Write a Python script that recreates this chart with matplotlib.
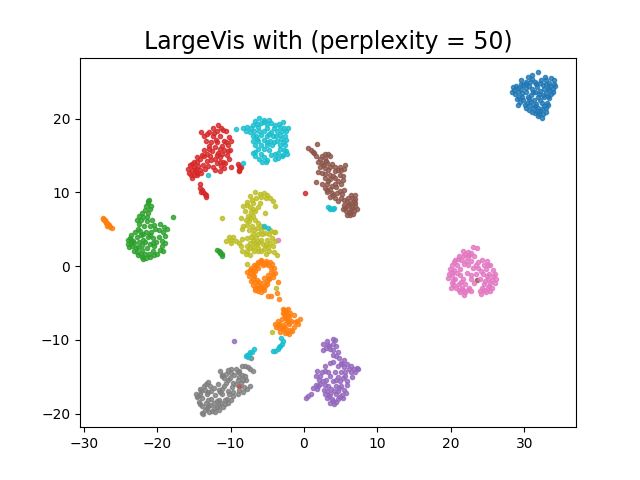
import matplotlib
matplotlib.use("Agg")
from matplotlib import pyplot as plt
import numpy as np

# embedding coordinates, one list per digit class
digit_0 = [(31.9,26.3),(30.5,25.6),(31.0,25.4),(30.2,25.0),(29.9,24.6),(31.4,25.0),(32.3,25.3),(33.0,25.2),(33.7,25.5),
           (33.4,24.9),(34.1,24.7),(33.9,24.1),(34.2,24.4),(33.2,24.2),(32.6,24.6),(31.8,24.3),(31.1,24.1),(30.6,24.4),
           (29.5,24.7),(29.2,24.2),(28.6,23.9),(28.3,23.7),(28.8,23.3),(29.3,23.0),(29.7,23.5),(30.2,23.6),(30.9,23.2),
           (31.5,23.6),(32.2,23.8),(32.9,23.5),(33.6,23.4),(33.9,23.6),(33.4,22.8),(32.7,22.9),(31.9,22.9),(31.3,22.6),
           (30.6,22.7),(29.9,22.5),(29.4,22.3),(30.1,21.9),(30.8,21.9),(31.6,22.0),(32.4,22.2),(33.1,22.2),(33.0,21.5),
           (32.4,21.3),(31.9,21.5),(31.2,21.4),(30.6,21.2),(31.4,20.8),(32.0,20.6),(32.5,20.7),(32.4,20.1),(31.9,20.4),
           (29.6,25.3),(32.8,25.6),(33.5,24.4),(28.9,24.5),(29.0,22.7),(31.0,25.9),(30.3,24.2),(32.2,24.9),(33.2,23.1),
           (30.4,22.2),(32.9,20.9),(31.7,21.0),(30.8,25.0),(29.6,24.1),(28.5,24.3),(29.1,23.6),(30.5,23.0),(31.2,23.7),
           (32.0,23.3),(32.7,24.1),(33.4,23.9),(33.0,24.7),(31.6,24.7),(30.2,24.7),(29.7,22.9),(30.9,22.3),(32.1,22.5),
           (33.3,21.9),(32.7,21.7),(31.5,21.7),(30.2,21.5),(31.1,20.9),(32.6,23.2),(34.0,25.2),(29.1,21.9),(32.1,21.1)]
digit_1 = [(-27.4,6.5),(-27.2,6.2),(-27.0,6.0),(-26.9,5.8),(-26.7,5.7),(-26.6,5.5),(-26.4,5.3),(-26.2,5.2),(-27.1,6.3),
           (-26.8,5.5),(-27.3,6.4),(-26.9,6.0),(-26.5,5.6),
           (-5.9,0.9),(-6.3,0.6),(-5.2,0.7),(-4.6,0.6),(-4.3,0.3),(-6.8,0.2),(-5.6,0.2),(-4.9,0.1),(-7.2,-0.2),(-6.2,-0.2),
           (-4.1,-0.3),(-7.8,-0.8),(-7.3,-0.9),(-6.6,-0.6),(-4.5,-0.8),(-3.9,-0.9),(-7.5,-1.4),(-6.8,-1.4),(-4.9,-1.2),
           (-4.2,-1.5),(-7.2,-2.0),(-6.4,-1.9),(-5.4,-1.6),(-4.7,-1.8),(-6.9,-2.5),(-6.3,-2.6),(-5.6,-2.3),(-5.0,-2.4),
           (-6.7,-3.0),(-6.1,-3.1),(-5.6,-3.0),(-6.2,-3.4),(-5.8,-3.5),(-6.4,-2.9),(-5.3,-2.7),(-6.9,-1.8),(-7.4,-0.5),
           (-5.9,0.4),(-6.5,0.0),(-7.0,-0.5),(-5.3,0.3),(-4.5,-0.2),(-4.2,-1.0),(-4.8,-1.6),(-5.1,-2.0),(-6.1,-2.2),
           (-6.7,-2.1),(-7.0,-1.2),(-6.0,-2.8),(-5.5,-3.3),(-6.6,-3.3),(-5.8,-3.0),(-5.9,0.7),(-6.4,0.3),(-5.0,0.4),
           (-3.6,-2.2),(-3.7,-3.6),(-3.4,-4.4),(-4.9,-4.1),(-4.5,-4.0),
           (-2.7,-5.9),(-2.2,-5.8),(-2.9,-6.3),(-2.4,-6.2),(-1.9,-6.4),(-1.4,-6.6),(-2.6,-6.7),(-2.0,-6.9),(-1.0,-7.4),
           (-0.6,-7.2),(-2.3,-7.3),(-1.7,-7.4),(-1.2,-7.6),(-0.8,-7.9),(-3.6,-7.5),(-3.9,-7.8),(-3.2,-7.8),(-2.6,-7.9),
           (-2.0,-7.9),(-1.4,-8.2),(-3.8,-8.2),(-3.4,-8.4),(-2.9,-8.5),(-2.4,-8.5),(-1.9,-8.7),(-3.2,-8.9),(-2.6,-9.1),
           (-2.1,-9.2),(-1.6,-8.8),(-3.0,-7.2),(-2.8,-5.8),(-2.5,-6.0),(-2.7,-6.5),(-2.2,-6.6),(-2.4,-7.0),(-2.1,-7.6),
           (-3.5,-8.0),(-3.1,-8.3),(-2.7,-8.3),(-2.3,-8.9)]
digit_2 = [(-21.1,9.0),(-21.2,8.6),(-21.5,8.2),(-20.8,8.2),(-21.0,7.7),(-21.6,7.6),(-21.2,7.2),(-22.1,7.2),(-22.5,6.8),
           (-21.4,6.7),(-22.8,6.2),(-22.2,6.3),(-21.4,6.1),(-20.7,6.2),(-22.5,5.7),(-21.8,5.4),(-20.9,5.4),(-19.6,5.7),
           (-19.1,5.3),(-18.6,5.0),(-20.3,5.0),(-19.7,4.9),(-23.0,4.6),(-22.3,4.8),(-21.5,4.7),(-20.8,4.6),(-19.2,4.6),
           (-18.9,4.1),(-23.5,4.2),(-22.8,4.0),(-22.2,4.2),(-20.6,3.8),(-19.8,4.0),(-24.0,3.5),(-23.5,3.6),(-23.1,3.1),
           (-21.9,3.6),(-21.3,3.9),(-20.2,3.3),(-19.3,3.4),(-18.9,3.2),(-23.9,3.0),(-23.4,2.7),(-22.0,2.9),(-21.0,3.0),
           (-20.4,2.7),(-19.4,2.7),(-23.2,2.1),(-22.7,1.9),(-22.0,2.2),(-21.4,2.4),(-20.6,2.1),(-19.6,2.2),(-19.2,2.0),
           (-22.6,1.5),(-22.0,1.3),(-21.5,1.1),(-20.9,1.2),(-20.4,1.5),(-21.9,1.0),(-23.7,3.8),(-21.6,3.3),(-17.8,6.7),
           (-22.9,2.5),(-20.0,1.7),(-23.3,3.4),(-23.6,3.2),(-22.4,3.3),(-22.6,2.6),(-21.7,1.7),(-21.1,1.6),(-20.5,3.2),
           (-20.9,4.2),(-21.9,4.4),(-22.6,5.1),(-21.9,6.7),(-20.4,5.6),(-23.8,2.6),(-22.2,1.7),(-21.2,8.9),
           (-11.8,2.2),(-11.6,2.0),(-11.4,1.8),(-11.2,1.6),(-11.1,1.4),(-11.5,1.9)]
digit_3 = [(-11.7,19.2),(-12.4,18.8),(-11.3,18.8),(-14.0,18.2),(-12.9,18.2),(-11.9,18.4),(-10.6,18.3),(-13.6,17.6),(-12.4,17.6),
           (-11.4,17.7),(-10.2,17.5),(-13.3,17.0),(-12.6,16.9),(-11.8,16.9),(-10.9,17.0),(-9.9,17.0),(-12.9,16.3),(-12.1,16.2),
           (-11.2,16.3),(-10.4,16.4),(-13.6,15.7),(-12.5,15.6),(-11.7,15.4),(-10.9,15.7),(-10.1,15.7),(-13.9,15.1),(-12.8,14.9),
           (-12.1,14.6),(-11.4,14.8),(-10.5,15.1),(-10.2,14.5),(-14.6,14.8),(-14.1,14.5),(-13.2,14.3),(-11.8,14.0),(-11.0,14.2),
           (-10.7,14.0),(-15.0,14.2),(-14.5,14.1),(-15.5,13.7),(-15.0,13.5),(-14.4,13.6),(-13.8,13.7),(-13.0,13.6),(-12.4,13.5),
           (-11.3,13.6),(-15.8,13.2),(-15.3,13.0),(-14.8,12.9),(-14.2,13.1),(-15.6,12.7),(-15.0,12.4),(-14.5,12.4),(-14.0,12.6),
           (-15.2,12.0),(-12.1,13.0),(-11.5,12.9),(-10.9,13.3),(-9.9,13.4),(-12.2,18.1),(-11.0,18.5),(-13.2,17.9),(-12.0,17.1),
           (-10.6,16.9),(-12.9,15.9),(-11.4,15.9),(-10.4,15.6),(-13.2,15.2),(-11.9,15.1),(-11.1,15.2),(-13.6,14.9),(-15.2,13.8),
           (-14.7,13.2),(-15.4,12.4),(-14.6,12.7),(-13.5,13.2),(-12.7,14.4),(-11.5,14.2),
           (-14.1,11.1),(-14.1,10.6),(-13.9,10.3),(-14.0,10.0),(-13.7,10.1),(-13.5,9.8),(-13.3,9.7),(-13.3,9.4),
           (-9.0,13.8),(-8.8,13.6),(-8.7,13.3),(-8.9,13.1),(-8.6,13.5),(-8.9,12.9),(0.1,9.9),(-8.9,-16.3)]
digit_4 = [(3.1,-10.2),(3.9,-9.9),(2.6,-10.6),(3.3,-10.7),(4.0,-10.5),(4.3,-10.9),(2.6,-11.4),(3.5,-11.3),(4.0,-11.4),(3.9,-12.0),
           (4.6,-11.7),(3.6,-13.1),(3.9,-13.0),(4.8,-12.5),(5.5,-12.7),(5.0,-13.1),(5.9,-13.3),(2.9,-13.5),(4.6,-13.6),(5.5,-13.7),
           (6.1,-13.9),(6.8,-13.9),(7.2,-13.8),(7.4,-14.0),(1.8,-14.2),(2.4,-14.3),(3.3,-14.4),(4.2,-14.3),(5.0,-14.3),(6.4,-14.4),
           (7.0,-14.4),(1.6,-14.9),(2.2,-14.9),(3.6,-14.9),(4.6,-15.0),(5.6,-14.9),(6.5,-15.0),(2.0,-15.5),(3.0,-15.4),(3.9,-15.6),
           (4.9,-15.6),(5.8,-15.6),(1.6,-16.1),(1.3,-16.5),(2.2,-16.0),(3.3,-16.2),(4.3,-16.3),(5.1,-16.2),(5.9,-16.1),(1.8,-16.7),
           (2.7,-16.8),(3.7,-16.7),(4.7,-16.9),(5.5,-16.8),(2.9,-17.4),(3.6,-17.3),(4.3,-17.4),(5.2,-17.5),(5.7,-17.2),(3.1,-17.9),
           (3.8,-18.0),(4.6,-18.0),(5.3,-17.9),(3.6,-18.6),(4.1,-18.7),(4.4,-18.4),(3.4,-10.9),(4.2,-10.0),(3.0,-11.1),(4.4,-12.2),
           (5.2,-13.3),(6.4,-13.6),(2.8,-14.2),(5.6,-14.3),(2.6,-15.6),(4.4,-15.4),(5.3,-15.2),(1.9,-16.2),(2.8,-16.1),(4.8,-16.5),
           (3.2,-16.9),(4.1,-17.0),(3.4,-17.6),(4.9,-17.7),(4.0,-18.3),(0.3,-17.9),(0.6,-17.6),(0.9,-17.3),(-9.5,-10.2)]
digit_5 = [(1.8,16.6),(0.6,16.1),(1.0,15.7),(1.4,15.3),(2.8,15.2),(3.3,15.2),(3.6,15.0),(1.7,14.9),(2.2,14.6),(2.9,14.7),
           (1.9,14.2),(2.5,14.0),(3.2,14.0),(3.8,13.9),(2.2,13.5),(2.9,13.3),(4.2,13.5),(4.9,13.5),(5.6,13.7),(3.3,13.0),(4.2,12.9),
           (5.0,13.0),(5.5,13.2),(1.9,12.8),(2.5,12.6),(3.5,12.4),(4.9,12.4),(5.3,12.3),(2.9,11.9),(3.6,11.8),(4.2,11.9),(5.3,11.7),
           (1.6,11.4),(2.4,11.2),(3.2,11.1),(4.2,11.2),(5.0,11.1),(2.9,10.6),(3.6,10.5),(4.4,10.7),(5.4,10.4),(3.1,10.0),(3.8,9.9),
           (4.5,9.9),(5.2,9.8),(6.4,9.7),(6.9,9.6),(3.5,9.4),(4.2,9.3),(5.0,9.3),(6.0,9.3),(6.5,9.2),(7.0,9.1),(4.6,8.8),(5.8,8.8),
           (6.4,8.6),(6.9,8.6),(5.4,8.3),(5.9,8.1),(6.5,8.0),(7.0,8.2),(5.3,7.7),(5.7,7.5),(6.3,7.4),(6.8,7.5),(7.2,7.7),(5.9,7.0),
           (6.3,6.9),(6.7,7.1),(1.2,15.5),(2.4,15.0),(3.0,14.3),(2.6,13.7),(3.6,13.4),(4.6,13.1),(2.9,12.5),(4.0,12.3),(3.3,11.5),
           (4.7,11.5),(3.8,10.9),(3.2,10.4),(4.9,10.2),(4.0,9.6),(5.5,9.0),(6.2,8.4),(6.8,8.9),(5.6,7.9),(6.4,7.7),(6.1,7.2),(23.5,-1.9)]
digit_6 = [(23.0,2.6),(23.5,2.5),(21.6,2.0),(22.3,1.9),(22.8,1.8),(21.1,1.4),(21.7,1.4),(22.4,1.2),(23.1,1.4),(20.6,0.9),(21.4,0.8),
           (22.8,0.7),(24.3,0.8),(24.9,0.7),(23.7,0.5),(20.1,0.2),(20.8,0.2),(21.8,0.3),(22.4,0.2),(24.5,0.2),(25.3,0.2),(19.9,-0.4),
           (20.5,-0.5),(21.3,-0.4),(23.0,-0.3),(23.7,-0.3),(24.8,-0.4),(25.7,-0.5),(19.7,-1.0),(20.2,-1.2),(21.2,-1.2),(22.2,-0.9),
           (23.4,-1.0),(24.4,-1.1),(25.2,-1.0),(26.0,-1.0),(19.6,-1.6),(20.6,-1.8),(21.6,-1.8),(22.7,-1.7),(24.0,-1.7),(25.0,-1.7),
           (26.2,-1.7),(20.1,-2.3),(21.1,-2.4),(22.0,-2.4),(23.1,-2.3),(24.5,-2.4),(25.4,-2.3),(26.0,-2.3),(20.0,-2.9),(20.7,-3.0),
           (21.5,-3.0),(22.5,-2.9),(24.3,-3.0),(25.0,-2.9),(25.6,-2.9),(21.3,-3.5),(22.0,-3.5),(22.7,-3.4),(24.0,-3.4),(24.8,-3.5),
           (25.3,-3.4),(21.8,-3.9),(24.1,-3.8),(21.9,1.7),(22.5,1.5),(21.0,1.0),(20.4,0.5),(22.1,0.7),(23.4,0.2),(24.1,-0.6),(25.0,0.1),
           (20.1,-0.8),(20.9,-0.9),(22.8,-1.2),(24.9,-1.3),(25.7,-1.3),(20.3,-1.9),(21.4,-2.1),(24.6,-2.0),(25.6,-1.9),(25.2,-2.7),
           (20.4,-2.6),(21.1,-3.2),(22.3,-3.2),(24.5,-3.2),(21.6,-3.3),(-3.6,3.5)]
digit_7 = [(-11.5,-14.2),(-10.4,-14.1),(-9.9,-14.0),(-9.2,-14.0),(-8.8,-14.2),(-11.1,-14.7),(-10.6,-14.6),(-9.5,-14.7),(-8.5,-14.8),
           (-8.0,-14.9),(-10.9,-15.2),(-10.1,-15.2),(-9.0,-15.4),(-8.3,-15.4),(-7.9,-15.5),(-10.6,-15.8),(-9.7,-15.9),(-8.6,-15.9),
           (-13.0,-15.7),(-13.6,-16.2),(-12.8,-16.2),(-11.7,-16.0),(-10.9,-16.3),(-9.8,-16.4),(-7.4,-16.3),(-7.8,-16.7),(-14.2,-16.7),
           (-13.5,-16.8),(-12.6,-16.9),(-11.6,-16.8),(-10.4,-16.9),(-9.0,-17.3),(-8.3,-17.1),(-8.8,-16.8),(-14.7,-17.3),(-14.1,-17.3),
           (-13.2,-17.4),(-12.1,-17.5),(-11.2,-17.4),(-10.2,-17.4),(-9.6,-17.6),(-14.6,-17.8),(-13.9,-17.9),(-12.7,-18.0),(-11.6,-18.1),
           (-10.8,-18.2),(-9.9,-18.1),(-14.3,-18.4),(-13.3,-18.5),(-12.3,-18.6),(-11.3,-18.6),(-10.4,-18.6),(-13.9,-19.0),(-13.0,-19.0),
           (-11.9,-19.1),(-11.0,-19.1),(-13.5,-19.5),(-12.5,-19.6),(-11.6,-19.5),(-13.9,-19.9),(-13.7,-20.0),(-12.9,-19.8),(-12.1,-19.8),
           (-11.2,-14.9),(-9.9,-14.5),(-9.0,-14.4),(-10.3,-15.5),(-8.8,-15.0),(-13.3,-16.0),(-12.3,-16.5),(-11.1,-16.6),(-9.2,-16.0),
           (-8.2,-16.4),(-14.0,-17.0),(-13.0,-17.1),(-11.5,-17.1),(-9.6,-17.1),(-14.4,-17.6),(-13.0,-18.2),(-11.9,-18.3),(-10.5,-18.0),
           (-14.1,-18.7),(-12.8,-18.8),(-11.6,-18.8),(-10.8,-18.7),(-13.2,-19.3),(-12.2,-19.3),
           (-8.4,-13.5),(-8.0,-13.6),(-7.6,-13.7),(-7.3,-13.9),(-7.0,-14.2),(-7.2,-12.5)]
digit_8 = [(-6.6,10.0),(-6.0,9.8),(-5.5,9.9),(-5.0,9.7),(-7.3,9.5),(-6.5,9.3),(-4.6,9.3),(-4.2,8.8),(-7.8,8.7),(-6.9,8.6),(-6.0,8.6),
           (-4.0,8.2),(-8.3,8.2),(-7.4,8.0),(-6.3,8.0),(-8.0,7.5),(-7.2,7.3),(-5.3,7.2),(-7.6,6.8),(-6.9,6.8),(-8.6,6.5),(-7.5,6.1),
           (-6.7,6.3),(-6.2,5.8),(-8.3,5.5),(-7.8,5.6),(-7.1,5.5),(-5.9,5.5),(-5.4,5.3),(-8.4,5.0),(-7.5,4.9),(-6.8,4.9),(-5.9,4.9),
           (-4.6,4.9),(-4.1,4.7),(-7.0,4.4),(-6.3,4.3),(-5.3,4.5),(-4.7,4.3),(-3.9,4.6),(-10.2,3.9),(-9.6,3.9),(-9.9,3.5),(-9.2,3.4),
           (-8.4,3.7),(-7.7,3.8),(-6.9,3.6),(-5.9,3.6),(-5.1,3.6),(-10.6,3.4),(-10.0,3.2),(-8.9,3.1),(-7.4,3.2),(-6.4,3.0),(-5.6,3.0),
           (-4.6,3.2),(-3.9,3.4),(-8.6,2.7),(-7.8,2.7),(-7.0,2.6),(-6.2,2.5),(-4.9,2.6),(-4.2,2.7),(-8.5,2.1),(-7.7,2.0),(-6.8,2.1),
           (-5.9,2.0),(-4.7,2.1),(-4.1,1.9),(-7.9,1.6),(-7.4,1.5),(-5.2,1.6),(-3.7,1.5),(-5.9,9.4),(-5.2,9.3),(-7.1,9.0),(-7.7,8.3),
           (-7.0,7.8),(-6.6,7.5),(-7.3,6.6),(-7.9,6.3),(-6.4,5.2),(-5.7,4.4),(-6.5,3.8),(-7.2,4.0),(-6.1,3.3),(-5.2,2.9),(-6.7,3.1),
           (-7.4,2.4),(-5.4,2.3),(-6.3,2.1),(-4.4,3.8),(-11.1,6.5),(-7.7,0.3),(-3.8,-2.9),(-4.4,-8.9)]
digit_9 = [(-6.1,20.1),(-5.4,19.9),(-6.6,19.7),(-4.7,19.8),(-6.9,19.2),(-5.9,19.4),(-5.1,19.3),(-4.5,19.4),(-3.4,19.3),(-2.9,19.5),
           (-8.3,18.8),(-7.7,18.9),(-7.2,18.7),(-6.3,18.9),(-5.0,18.7),(-4.1,18.7),(-3.3,18.9),(-2.7,18.8),(-7.9,18.3),(-7.4,18.2),
           (-6.1,18.3),(-5.4,18.3),(-4.5,18.2),(-3.7,18.3),(-2.5,18.3),(-2.2,18.7),(-7.0,17.7),(-6.5,17.6),(-5.0,17.7),(-4.2,17.6),
           (-3.3,17.8),(-2.6,17.7),(-6.9,17.0),(-6.2,17.0),(-5.5,17.1),(-4.6,17.0),(-3.7,17.0),(-3.1,17.2),(-2.5,17.1),(-6.6,16.4),
           (-5.8,16.4),(-5.0,16.4),(-4.3,16.5),(-3.2,16.5),(-2.6,16.5),(-6.2,15.9),(-4.8,15.8),(-3.2,15.9),(-2.4,15.6),(-2.3,15.2),
           (-2.8,15.1),(-7.0,15.3),(-6.6,15.0),(-6.1,14.6),(-5.4,14.8),(-5.0,14.4),(-4.0,14.6),(-3.5,14.7),(-3.0,14.9),(-5.7,14.1),
           (-5.2,14.1),(-6.4,19.3),(-5.5,19.5),(-4.0,19.2),(-3.0,18.3),(-6.8,18.3),(-5.8,17.8),(-4.7,18.0),(-3.8,17.7),(-6.4,17.3),
           (-5.1,16.9),(-4.1,16.9),(-2.9,16.8),(-5.5,15.9),(-6.6,15.5),(-3.6,15.4),(-2.7,15.8),(-4.5,15.1),(-3.9,15.2),(-5.8,15.2),
           (-9.3,18.6),(-8.3,14.0),(-13.1,12.4),(-5.4,5.5),(-4.9,5.2),
           (3.3,8.0),(3.6,7.9),(3.9,7.8),(4.1,7.9),(3.5,7.7),
           (-7.9,-12.2),(-7.7,-12.0),(-7.5,-11.9),(-7.3,-11.7),(-7.1,-11.6),(-6.8,-11.3),(-7.6,-12.3),
           (-4.2,-11.5),(-3.9,-11.5),(-3.6,-11.3),(-3.4,-11.0),(-3.2,-10.8),(-3.0,-10.5),(-2.8,-10.2),(-3.1,-9.7)]

digits = [digit_0, digit_1, digit_2, digit_3, digit_4, digit_5, digit_6, digit_7, digit_8, digit_9]
perplexity = 50

fig, ax = plt.subplots(figsize=(6.4, 4.8), dpi=100)
for i, pts in enumerate(digits):
    pts = np.array(pts)
    ax.scatter(pts[:, 0], pts[:, 1], color=plt.cm.tab10(i), s=9, alpha=0.8)

ax.set_xlim(-30.5, 37.05)
ax.set_ylim(-21.85, 28.3)
ax.set_title("LargeVis with (perplexity = %d)" % perplexity, fontsize=17)
fig.savefig("out.png")
